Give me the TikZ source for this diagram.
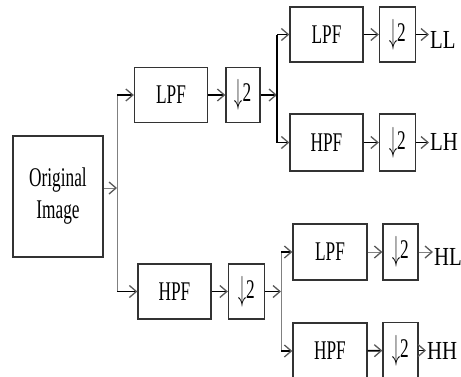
\documentclass[tikz,border=0pt]{standalone}
\usepackage{fontspec}
\setmainfont{Liberation Serif}
\usetikzlibrary{arrows.meta,positioning}
\newcommand{\squeezed}[1]{\scalebox{0.64}[1]{#1}}
\newcommand{\dstwo}{\squeezed{\raisebox{-2pt}{\scalebox{1}[1.4]{$\downarrow$}}2}}

\begin{document}
\begin{tikzpicture}[
    x=1pt, y=-1pt,
    filt/.style={rectangle, draw=black!80, line width=1.3pt, minimum width=73pt, minimum height=55pt, inner sep=0pt, font=\fontsize{27}{32}\selectfont},
    dsmp/.style={filt, minimum width=36pt},
    lbl/.style={inner sep=1pt, font=\fontsize{26}{32}\selectfont},
    ln/.style={line width=1.8pt, draw=black},
    lng/.style={line width=1pt, draw=black!50},
    arr/.style={ln, -{Straight Barb[length=7pt, width=12pt, color=black!65, line width=1.3pt]}},
    arrg/.style={lng, -{Straight Barb[length=7pt, width=12pt, color=black!65, line width=1.3pt]}}
]
    \useasboundingbox (0,0) rectangle (461,376);
    \clip (0,0) rectangle (461,376);

    % first level
    \node [filt, minimum width=90pt, minimum height=121pt, align=center] (orig) at (58,196.5) {\squeezed{Original}\\\squeezed{Image}};
    \node [filt] (lpfA) at (171,95) {\squeezed{LPF}};
    \node [dsmp, minimum width=34pt] (dsA) at (243,95) {\dstwo};
    \node [filt] (hpfA) at (174.5,291.5) {\squeezed{HPF}};
    \node [dsmp] (dsB) at (246.5,291.5) {\dstwo};

    % second level
    \node [filt] (lpfB) at (326.5,34.5) {\squeezed{LPF}};
    \node [dsmp] (dsC) at (397.5,34.5) {\dstwo};
    \node [filt, minimum height=57pt] (hpfB) at (326.5,142.5) {\squeezed{HPF}};
    \node [dsmp, minimum height=57pt] (dsD) at (397.5,142.5) {\dstwo};
    \node [filt, minimum width=74pt, minimum height=56pt] (lpfC) at (330,252) {\squeezed{LPF}};
    \node [dsmp, minimum width=35pt, minimum height=56pt] (dsE) at (400.5,252) {\dstwo};
    \node [filt, minimum width=74pt, minimum height=56pt] (hpfC) at (330,351) {\squeezed{HPF}};
    \node [dsmp, minimum width=35pt, minimum height=56pt] (dsF) at (400.5,350.5) {\dstwo};

    % outputs
    \node [lbl, anchor=west] (ll) at (429,40) {\scalebox{0.8}[1]{LL}};
    \node [lbl, anchor=west] (lh) at (429,142) {\scalebox{0.8}[1]{LH}};
    \node [lbl, anchor=west] (hl) at (433,257) {\scalebox{0.8}[1]{HL}};
    \node [lbl, anchor=west] (hh) at (426,351) {\scalebox{0.8}[1]{HH}};

    \coordinate (s1) at (117,188);
    \coordinate (s2) at (277,95);
    \coordinate (s3) at (281,291.5);

    \draw [arrg] (orig.east |- s1) -- (s1);
    \draw [lng] (s1 |- lpfA) -- (s1 |- hpfA);
    \draw [arr] (s1 |- lpfA) -- (lpfA.west);
    \draw [arr] (s1 |- hpfA) -- (hpfA.west);
    \draw [arr] (lpfA) -- (dsA);
    \draw [arr] (hpfA) -- (dsB);

    \draw [arr] (dsA) -- (s2);
    \draw [ln] (s2 |- lpfB) -- (s2 |- hpfB);
    \draw [arr] (s2 |- lpfB) -- (lpfB.west);
    \draw [arr] (s2 |- hpfB) -- (hpfB.west);
    \draw [arr] (lpfB) -- (dsC);
    \draw [arr] (hpfB) -- (dsD);
    \draw [arr] (dsC.east) -- (dsC.east -| ll.west);
    \draw [arr] (dsD.east) -- (dsD.east -| lh.west);

    \draw [arr] (dsB) -- (s3);
    \draw [lng] (s3 |- lpfC) -- (s3 |- hpfC);
    \draw [arr] (s3 |- lpfC) -- (lpfC.west);
    \draw [arr] (s3 |- hpfC) -- (hpfC.west);
    \draw [arrg] (lpfC) -- (dsE);
    \draw [arr] (hpfC) -- (dsF);
    \draw [arrg] (dsE.east) -- (dsE.east -| hl.west);
    \draw [arr] (dsF.east) -- (dsF.east -| hh.west);
\end{tikzpicture}
\end{document}
